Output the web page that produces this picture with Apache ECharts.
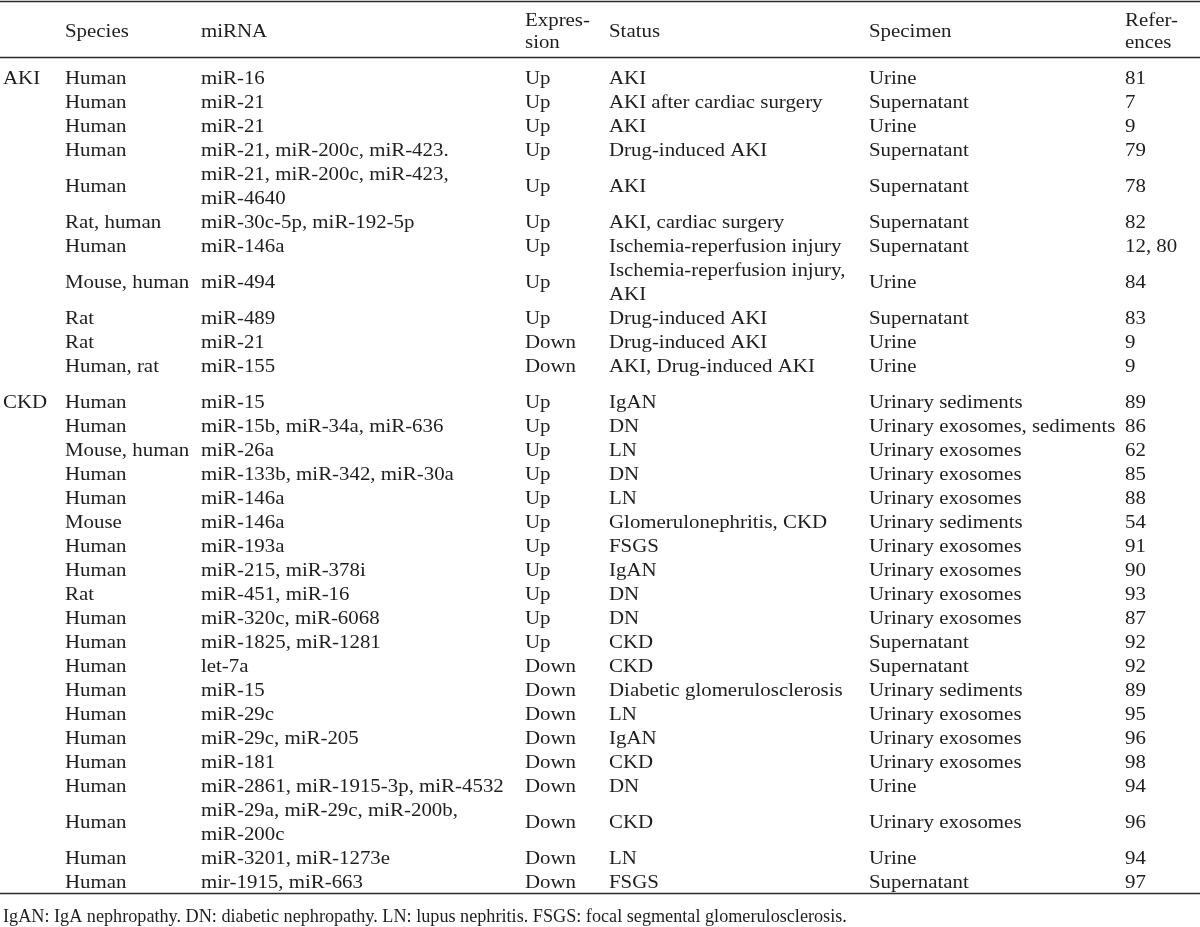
<!DOCTYPE html>
<html>
<head>
<meta charset="utf-8">
<script src="https://cdn.jsdelivr.net/npm/echarts@6/dist/echarts.min.js"></script>
<style>
  html, body { margin: 0; padding: 0; background: #fff; }
  #main { width: 1200px; height: 927px; }
</style>
</head>
<body>
<div id="main"></div>
<script>
// table content
var headers = ['', 'Species', 'miRNA', 'Expres-\nsion', 'Status', 'Specimen', 'Refer-\nences'];

var group = ['AKI', 'AKI', 'AKI', 'AKI', 'AKI', 'AKI', 'AKI', 'AKI', 'AKI', 'AKI', 'AKI',
  'CKD', 'CKD', 'CKD', 'CKD', 'CKD', 'CKD', 'CKD', 'CKD', 'CKD', 'CKD',
  'CKD', 'CKD', 'CKD', 'CKD', 'CKD', 'CKD', 'CKD', 'CKD', 'CKD', 'CKD'];

var species = ['Human', 'Human', 'Human', 'Human', 'Human', 'Rat, human', 'Human', 'Mouse, human', 'Rat', 'Rat', 'Human, rat',
  'Human', 'Human', 'Mouse, human', 'Human', 'Human', 'Mouse', 'Human', 'Human', 'Rat', 'Human',
  'Human', 'Human', 'Human', 'Human', 'Human', 'Human', 'Human', 'Human', 'Human', 'Human'];

var mirna = ['miR-16', 'miR-21', 'miR-21', 'miR-21, miR-200c, miR-423.', 'miR-21, miR-200c, miR-423,\nmiR-4640',
  'miR-30c-5p, miR-192-5p', 'miR-146a', 'miR-494', 'miR-489', 'miR-21', 'miR-155',
  'miR-15', 'miR-15b, miR-34a, miR-636', 'miR-26a', 'miR-133b, miR-342, miR-30a', 'miR-146a', 'miR-146a',
  'miR-193a', 'miR-215, miR-378i', 'miR-451, miR-16', 'miR-320c, miR-6068', 'miR-1825, miR-1281', 'let-7a',
  'miR-15', 'miR-29c', 'miR-29c, miR-205', 'miR-181', 'miR-2861, miR-1915-3p, miR-4532',
  'miR-29a, miR-29c, miR-200b,\nmiR-200c', 'miR-3201, miR-1273e', 'mir-1915, miR-663'];

var expression = ['Up', 'Up', 'Up', 'Up', 'Up', 'Up', 'Up', 'Up', 'Up', 'Down', 'Down',
  'Up', 'Up', 'Up', 'Up', 'Up', 'Up', 'Up', 'Up', 'Up', 'Up',
  'Up', 'Down', 'Down', 'Down', 'Down', 'Down', 'Down', 'Down', 'Down', 'Down'];

var statusCol = ['AKI', 'AKI after cardiac surgery', 'AKI', 'Drug-induced AKI', 'AKI', 'AKI, cardiac surgery',
  'Ischemia-reperfusion injury', 'Ischemia-reperfusion injury,\nAKI', 'Drug-induced AKI', 'Drug-induced AKI',
  'AKI, Drug-induced AKI',
  'IgAN', 'DN', 'LN', 'DN', 'LN', 'Glomerulonephritis, CKD', 'FSGS', 'IgAN', 'DN', 'DN',
  'CKD', 'CKD', 'Diabetic glomerulosclerosis', 'LN', 'IgAN', 'CKD', 'DN', 'CKD', 'LN', 'FSGS'];

var specimen = ['Urine', 'Supernatant', 'Urine', 'Supernatant', 'Supernatant', 'Supernatant', 'Supernatant',
  'Urine', 'Supernatant', 'Urine', 'Urine',
  'Urinary sediments', 'Urinary exosomes, sediments', 'Urinary exosomes', 'Urinary exosomes', 'Urinary exosomes',
  'Urinary sediments', 'Urinary exosomes', 'Urinary exosomes', 'Urinary exosomes', 'Urinary exosomes',
  'Supernatant', 'Supernatant', 'Urinary sediments', 'Urinary exosomes', 'Urinary exosomes', 'Urinary exosomes',
  'Urine', 'Urinary exosomes', 'Urine', 'Supernatant'];

var refs = ['81', '7', '9', '79', '78', '82', '12, 80', '84', '83', '9', '9',
  '89', '86', '62', '85', '88', '54', '91', '90', '93', '87',
  '92', '92', '89', '95', '96', '98', '94', '96', '94', '97'];

var footnote = 'IgAN: IgA nephropathy. DN: diabetic nephropathy. LN: lupus nephritis. FSGS: focal segmental glomerulosclerosis.';

// layout
var colX = [3, 65, 201, 525, 609, 869, 1125];
var headerY = 32;
var firstRowY = 79;
var lineH = 24;
var groupGap = 12;
var ruleY = [1.5, 57.5, 893.5];
var footY = 917;
var FONT = '18px "Liberation Serif", "DejaVu Serif", serif';
var TEXT_COLOR = '#1e1e1e';
var SX = 1.16;
var FOOT_SX = 1.01;

var columns = [null, species, mirna, expression, statusCol, specimen, refs];

// build cells: [x, y] positions in axis units, text looked up by index
var cells = [];
headers.forEach(function (h, c) {
  if (h) cells.push({ x: colX[c], y: headerY, text: h, lh: 22, sx: SX });
});

var y = firstRowY;
for (var i = 0; i < species.length; i++) {
  if (i > 0 && group[i] !== group[i - 1]) y += groupGap;
  var nLines = 1;
  columns.forEach(function (col) {
    if (col) nLines = Math.max(nLines, col[i].split('\n').length);
  });
  var center = y + (nLines - 1) * lineH / 2;
  if (i === 0 || group[i] !== group[i - 1]) {
    cells.push({ x: colX[0], y: center, text: group[i], lh: lineH, sx: SX });
  }
  columns.forEach(function (col, c) {
    if (col) cells.push({ x: colX[c], y: center, text: col[i], lh: lineH, sx: SX });
  });
  y += nLines * lineH;
}
cells.push({ x: colX[0], y: footY, text: footnote, lh: lineH, sx: FOOT_SX });

var chart = echarts.init(document.getElementById('main'));
var option = {
  animation: false,
  grid: { left: 0, right: 0, top: 0, bottom: 0 },
  xAxis: { type: 'value', min: 0, max: 1200, show: false },
  yAxis: { type: 'value', min: 0, max: 927, inverse: true, show: false },
  series: [
    {
      type: 'custom',
      name: 'cells',
      data: cells.map(function (c) { return [c.x, c.y]; }),
      renderItem: function (params, api) {
        var p = api.coord([api.value(0), api.value(1)]);
        var cell = cells[params.dataIndex];
        return {
          type: 'text',
          x: p[0],
          y: p[1],
          scaleX: cell.sx,
          style: {
            text: cell.text,
            font: FONT,
            fill: TEXT_COLOR,
            align: 'left',
            verticalAlign: 'middle',
            lineHeight: cell.lh
          }
        };
      }
    },
    {
      type: 'custom',
      name: 'rules',
      data: ruleY.map(function (v) { return [0, v]; }),
      renderItem: function (params, api) {
        var a = api.coord([0, api.value(1)]);
        var b = api.coord([1200, api.value(1)]);
        return {
          type: 'line',
          shape: { x1: a[0], y1: a[1], x2: b[0], y2: b[1] },
          style: { stroke: '#2a2a2a', lineWidth: 1.5 }
        };
      }
    }
  ]
};
chart.setOption(option);
</script>
</body>
</html>
